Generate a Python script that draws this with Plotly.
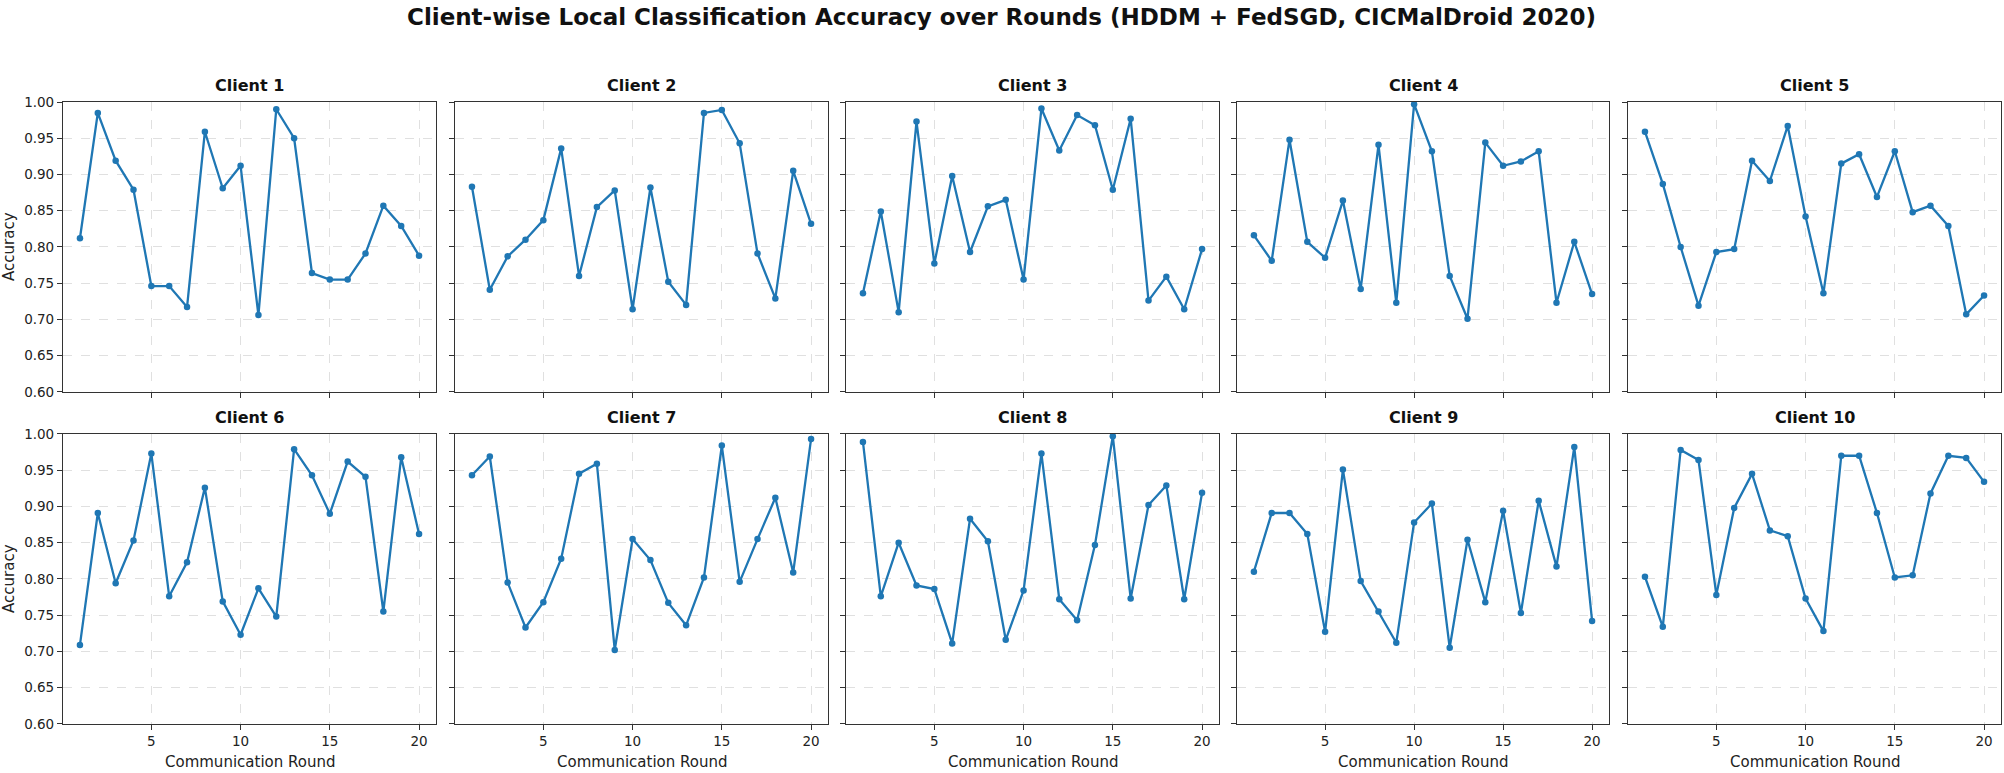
import plotly.graph_objects as go

rounds = list(range(1, 21))

client1 = [0.812, 0.985, 0.919, 0.879, 0.746, 0.746, 0.717, 0.959, 0.881, 0.912,
           0.706, 0.990, 0.950, 0.764, 0.755, 0.755, 0.791, 0.857, 0.829, 0.788]
client2 = [0.883, 0.741, 0.787, 0.810, 0.837, 0.936, 0.760, 0.855, 0.878, 0.714,
           0.882, 0.752, 0.720, 0.985, 0.989, 0.943, 0.791, 0.729, 0.905, 0.832]
client3 = [0.736, 0.849, 0.710, 0.973, 0.777, 0.898, 0.793, 0.856, 0.865, 0.755,
           0.991, 0.933, 0.982, 0.968, 0.879, 0.977, 0.726, 0.759, 0.714, 0.797]
client4 = [0.816, 0.781, 0.948, 0.807, 0.785, 0.864, 0.742, 0.941, 0.723, 0.997,
           0.932, 0.760, 0.701, 0.944, 0.912, 0.918, 0.932, 0.723, 0.807, 0.735]
client5 = [0.959, 0.887, 0.800, 0.719, 0.793, 0.797, 0.919, 0.891, 0.967, 0.842,
           0.736, 0.915, 0.928, 0.869, 0.932, 0.848, 0.857, 0.829, 0.707, 0.733]
client6 = [0.709, 0.891, 0.794, 0.853, 0.973, 0.776, 0.823, 0.926, 0.769, 0.723,
           0.787, 0.748, 0.979, 0.943, 0.890, 0.962, 0.941, 0.755, 0.968, 0.862]
client7 = [0.943, 0.969, 0.795, 0.733, 0.768, 0.828, 0.945, 0.959, 0.702, 0.855,
           0.826, 0.767, 0.736, 0.802, 0.984, 0.796, 0.855, 0.912, 0.809, 0.993]
client8 = [0.989, 0.776, 0.850, 0.791, 0.786, 0.711, 0.883, 0.852, 0.716, 0.784,
           0.973, 0.772, 0.743, 0.847, 0.997, 0.773, 0.902, 0.929, 0.772, 0.919]
client9 = [0.810, 0.891, 0.891, 0.862, 0.727, 0.951, 0.797, 0.755, 0.712, 0.878,
           0.904, 0.705, 0.854, 0.768, 0.894, 0.753, 0.908, 0.817, 0.982, 0.742]
client10 = [0.803, 0.734, 0.978, 0.964, 0.778, 0.898, 0.945, 0.867, 0.859, 0.773,
            0.728, 0.970, 0.970, 0.891, 0.802, 0.805, 0.918, 0.970, 0.967, 0.934]

clients = [client1, client2, client3, client4, client5,
           client6, client7, client8, client9, client10]
client_names = [f"Client {i}" for i in range(1, 11)]

title_text = "Client-wise Local Classification Accuracy over Rounds (HDDM + FedSGD, CICMalDroid 2020)"
x_label = "Communication Round"
y_label = "Accuracy"
x_ticks = [5, 10, 15, 20]
y_ticks = [0.60, 0.65, 0.70, 0.75, 0.80, 0.85, 0.90, 0.95, 1.00]

W, H = 2004, 773
col_px = [(63, 436), (455, 828), (846, 1219), (1237, 1609), (1628, 2001)]
row_px = [(96, 392), (435, 731)]

FONT = "DejaVu Sans"
COLOR = "#1f77b4"

fig = go.Figure()
layout = dict(
    width=W, height=H,
    margin=dict(l=0, r=0, t=0, b=0),
    paper_bgcolor="white", plot_bgcolor="white",
    showlegend=False,
    font=dict(family=FONT, color="#222222"),
)
annotations = []

for idx, vals in enumerate(clients):
    r, c = divmod(idx, 5)
    n = idx + 1
    xa = "x" if n == 1 else f"x{n}"
    ya = "y" if n == 1 else f"y{n}"
    fig.add_trace(go.Scatter(
        x=rounds, y=vals, mode="lines+markers",
        line=dict(color=COLOR, width=2.3),
        marker=dict(color=COLOR, size=6.5),
        xaxis=xa, yaxis=ya, hoverinfo="x+y",
    ))
    x0, x1 = col_px[c]
    y0, y1 = row_px[r]
    xdom = [x0 / W, x1 / W]
    ydom = [1 - y1 / H, 1 - y0 / H]
    axcommon = dict(
        showline=True, mirror=True, linecolor="#333333", linewidth=1.2,
        ticks="outside", ticklen=5, tickwidth=1.1, tickcolor="#333333",
        showgrid=True, gridcolor="#e0e0e0", griddash="dash", gridwidth=0.9,
        zeroline=False, tickfont=dict(family=FONT, size=13.5, color="#222222"),
    )
    layout[f"xaxis{'' if n == 1 else n}"] = dict(
        axcommon, domain=xdom, anchor=ya, range=[0.05, 20.95],
        tickmode="array", tickvals=x_ticks, ticktext=[str(t) for t in x_ticks],
        showticklabels=(r == 1),
    )
    layout[f"yaxis{'' if n == 1 else n}"] = dict(
        axcommon, domain=ydom, anchor=xa, range=[0.6, 1.0],
        tickmode="array", tickvals=y_ticks, ticktext=[f"{t:.2f}" for t in y_ticks],
        showticklabels=(c == 0),
    )
    annotations.append(dict(
        text=f"<b>{client_names[idx]}</b>", xref="paper", yref="paper",
        x=(x0 + x1) / 2 / W, y=1 - (y0 - 17) / H, xanchor="center", yanchor="middle",
        showarrow=False, font=dict(family=FONT, size=16, color="#111111"),
    ))
    if c == 0:
        annotations.append(dict(
            text=y_label, xref="paper", yref="paper",
            x=9 / W, y=1 - ((y0 + y1) / 2) / H, xanchor="center", yanchor="middle",
            textangle=-90, showarrow=False,
            font=dict(family=FONT, size=15, color="#222222"),
        ))
    if r == 1:
        annotations.append(dict(
            text=x_label, xref="paper", yref="paper",
            x=(x0 + x1) / 2 / W, y=1 - 770 / H, xanchor="center", yanchor="middle",
            showarrow=False, font=dict(family=FONT, size=15, color="#222222"),
        ))

annotations.append(dict(
    text=f"<b>{title_text}</b>", xref="paper", yref="paper",
    x=1001 / W, y=1 - 9 / H, xanchor="center", yanchor="middle",
    showarrow=False, font=dict(family=FONT, size=23, color="#111111"),
))
layout["annotations"] = annotations
fig.update_layout(**layout)
fig.write_html(
    "out.html",
    config={"displayModeBar": False},
    post_script="document.body.style.margin='0';document.body.style.padding='0';"
                "document.body.style.overflow='hidden';",
)
